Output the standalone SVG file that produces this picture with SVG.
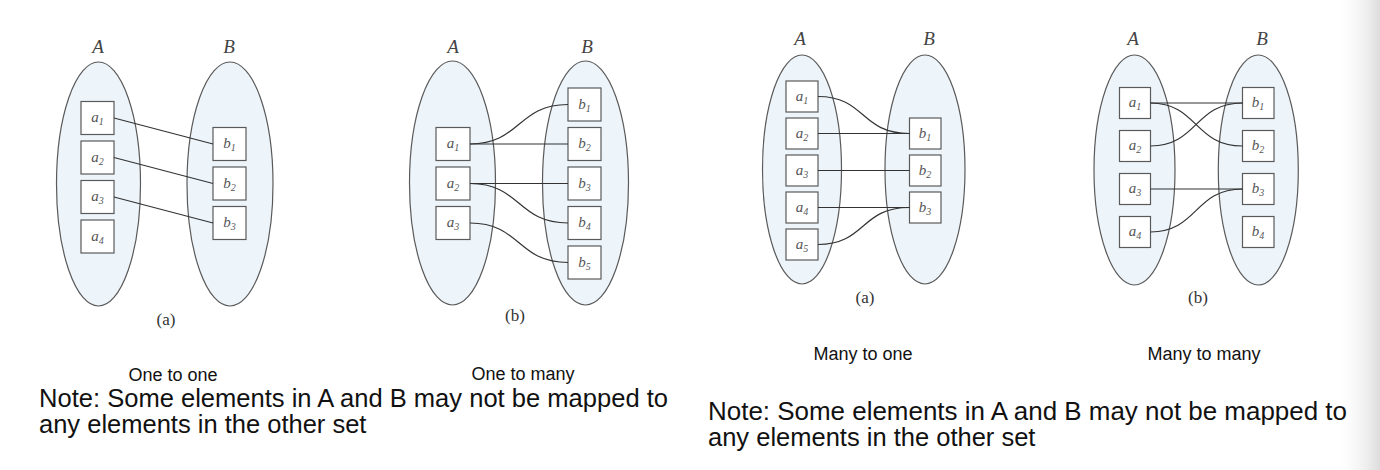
<svg xmlns="http://www.w3.org/2000/svg" width="1380" height="470" viewBox="0 0 1380 470">
<defs>
<linearGradient id="edge" x1="0" y1="0" x2="1" y2="0">
<stop offset="0" stop-color="#ffffff" stop-opacity="0"/>
<stop offset="1" stop-color="#dcdcdc" stop-opacity="1"/>
</linearGradient>
</defs>
<style>
.set{fill:#edf4fa;stroke:#5a5a5a;stroke-width:1.2}
.box{fill:#ffffff;stroke:#5a5a5a;stroke-width:1.2}
.conn path{fill:none;stroke:#333333;stroke-width:1.2}
.setlbl{font-family:"Liberation Serif",serif;font-style:italic;font-size:19px;fill:#444;text-anchor:middle}
.lbl{font-family:"Liberation Serif",serif;font-style:italic;font-size:15px;fill:#555;text-anchor:middle}
.sub{font-size:10px}
.cap{font-family:"Liberation Serif",serif;font-size:17px;fill:#333;text-anchor:middle}
.kind{font-family:"Liberation Sans",Arial,sans-serif;font-size:18px;fill:#111;text-anchor:middle}
.note{font-family:"Liberation Sans",Arial,sans-serif;font-size:25.5px;fill:#111}
</style>
<rect x="0" y="0" width="1380" height="470" fill="#ffffff"/>
<rect x="1335" y="0" width="45" height="470" fill="url(#edge)"/>

<!-- Panel 1: one to one -->
<g id="p1-setA"><ellipse class="set" cx="98.5" cy="184" rx="42" ry="122"/><text class="setlbl" x="98" y="53">A</text></g>
<g id="p1-setB"><ellipse class="set" cx="230" cy="184" rx="43" ry="122"/><text class="setlbl" x="229" y="53">B</text></g>
<g id="p1-a1"><rect class="box" x="81" y="101.5" width="33" height="33"/><text class="lbl" x="97.5" y="122">a<tspan class="sub" dy="3">1</tspan></text></g>
<g id="p1-a2"><rect class="box" x="81" y="141" width="33" height="33"/><text class="lbl" x="97.5" y="161.5">a<tspan class="sub" dy="3">2</tspan></text></g>
<g id="p1-a3"><rect class="box" x="81" y="180.5" width="33" height="33"/><text class="lbl" x="97.5" y="201">a<tspan class="sub" dy="3">3</tspan></text></g>
<g id="p1-a4"><rect class="box" x="81" y="220" width="33" height="33"/><text class="lbl" x="97.5" y="240.5">a<tspan class="sub" dy="3">4</tspan></text></g>
<g id="p1-b1"><rect class="box" x="213" y="127.5" width="33" height="33"/><text class="lbl" x="229.5" y="148">b<tspan class="sub" dy="3">1</tspan></text></g>
<g id="p1-b2"><rect class="box" x="213" y="167" width="33" height="33"/><text class="lbl" x="229.5" y="187.5">b<tspan class="sub" dy="3">2</tspan></text></g>
<g id="p1-b3"><rect class="box" x="213" y="206.5" width="33" height="33"/><text class="lbl" x="229.5" y="227">b<tspan class="sub" dy="3">3</tspan></text></g>
<text class="cap" x="166" y="325">(a)</text>

<!-- Panel 2: one to many -->
<g id="p2-setA"><ellipse class="set" cx="452.5" cy="183" rx="43" ry="122"/><text class="setlbl" x="453" y="53">A</text></g>
<g id="p2-setB"><ellipse class="set" cx="585.5" cy="183" rx="43" ry="122"/><text class="setlbl" x="587" y="53">B</text></g>
<g id="p2-a1"><rect class="box" x="436" y="127.5" width="34" height="33"/><text class="lbl" x="453" y="148">a<tspan class="sub" dy="3">1</tspan></text></g>
<g id="p2-a2"><rect class="box" x="436" y="167" width="34" height="33"/><text class="lbl" x="453" y="187.5">a<tspan class="sub" dy="3">2</tspan></text></g>
<g id="p2-a3"><rect class="box" x="436" y="206.5" width="34" height="33"/><text class="lbl" x="453" y="227">a<tspan class="sub" dy="3">3</tspan></text></g>
<g id="p2-b1"><rect class="box" x="568" y="88" width="33" height="33"/><text class="lbl" x="584.5" y="108.5">b<tspan class="sub" dy="3">1</tspan></text></g>
<g id="p2-b2"><rect class="box" x="568" y="127.5" width="33" height="33"/><text class="lbl" x="584.5" y="148">b<tspan class="sub" dy="3">2</tspan></text></g>
<g id="p2-b3"><rect class="box" x="568" y="167" width="33" height="33"/><text class="lbl" x="584.5" y="187.5">b<tspan class="sub" dy="3">3</tspan></text></g>
<g id="p2-b4"><rect class="box" x="568" y="206.5" width="33" height="33"/><text class="lbl" x="584.5" y="227">b<tspan class="sub" dy="3">4</tspan></text></g>
<g id="p2-b5"><rect class="box" x="568" y="246" width="33" height="33"/><text class="lbl" x="584.5" y="266.5">b<tspan class="sub" dy="3">5</tspan></text></g>
<text class="cap" x="515" y="321">(b)</text>

<!-- Panel 3: many to one -->
<g id="p3-setA"><ellipse class="set" cx="802" cy="169.5" rx="39.5" ry="114.5"/><text class="setlbl" x="800" y="45">A</text></g>
<g id="p3-setB"><ellipse class="set" cx="925" cy="169.5" rx="40" ry="114.5"/><text class="setlbl" x="929" y="45">B</text></g>
<g id="p3-a1"><rect class="box" x="786" y="81" width="32" height="31"/><text class="lbl" x="802" y="100.5">a<tspan class="sub" dy="3">1</tspan></text></g>
<g id="p3-a2"><rect class="box" x="786" y="118" width="32" height="31"/><text class="lbl" x="802" y="137.5">a<tspan class="sub" dy="3">2</tspan></text></g>
<g id="p3-a3"><rect class="box" x="786" y="155" width="32" height="31"/><text class="lbl" x="802" y="174.5">a<tspan class="sub" dy="3">3</tspan></text></g>
<g id="p3-a4"><rect class="box" x="786" y="192" width="32" height="31"/><text class="lbl" x="802" y="211.5">a<tspan class="sub" dy="3">4</tspan></text></g>
<g id="p3-a5"><rect class="box" x="786" y="229" width="32" height="31"/><text class="lbl" x="802" y="248.5">a<tspan class="sub" dy="3">5</tspan></text></g>
<g id="p3-b1"><rect class="box" x="909.5" y="118" width="31.5" height="31"/><text class="lbl" x="925" y="137.5">b<tspan class="sub" dy="3">1</tspan></text></g>
<g id="p3-b2"><rect class="box" x="909.5" y="155" width="31.5" height="31"/><text class="lbl" x="925" y="174.5">b<tspan class="sub" dy="3">2</tspan></text></g>
<g id="p3-b3"><rect class="box" x="909.5" y="192" width="31.5" height="31"/><text class="lbl" x="925" y="211.5">b<tspan class="sub" dy="3">3</tspan></text></g>
<text class="cap" x="865" y="303">(a)</text>

<!-- Panel 4: many to many -->
<g id="p4-setA"><ellipse class="set" cx="1134.5" cy="170" rx="40.5" ry="115"/><text class="setlbl" x="1133" y="45">A</text></g>
<g id="p4-setB"><ellipse class="set" cx="1258.3" cy="170" rx="40" ry="115"/><text class="setlbl" x="1262" y="45">B</text></g>
<g id="p4-a1"><rect class="box" x="1119.5" y="87.5" width="31" height="31"/><text class="lbl" x="1135" y="107">a<tspan class="sub" dy="3">1</tspan></text></g>
<g id="p4-a2"><rect class="box" x="1119.5" y="130.5" width="31" height="31"/><text class="lbl" x="1135" y="150">a<tspan class="sub" dy="3">2</tspan></text></g>
<g id="p4-a3"><rect class="box" x="1119.5" y="173.5" width="31" height="31"/><text class="lbl" x="1135" y="193">a<tspan class="sub" dy="3">3</tspan></text></g>
<g id="p4-a4"><rect class="box" x="1119.5" y="216.5" width="31" height="31"/><text class="lbl" x="1135" y="236">a<tspan class="sub" dy="3">4</tspan></text></g>
<g id="p4-b1"><rect class="box" x="1242.5" y="87.5" width="31.5" height="31"/><text class="lbl" x="1258" y="107">b<tspan class="sub" dy="3">1</tspan></text></g>
<g id="p4-b2"><rect class="box" x="1242.5" y="130.5" width="31.5" height="31"/><text class="lbl" x="1258" y="150">b<tspan class="sub" dy="3">2</tspan></text></g>
<g id="p4-b3"><rect class="box" x="1242.5" y="173.5" width="31.5" height="31"/><text class="lbl" x="1258" y="193">b<tspan class="sub" dy="3">3</tspan></text></g>
<g id="p4-b4"><rect class="box" x="1242.5" y="216.5" width="31.5" height="31"/><text class="lbl" x="1258" y="236">b<tspan class="sub" dy="3">4</tspan></text></g>
<text class="cap" x="1198" y="303">(b)</text>

<g id="connectors" class="conn">
<path d="M114,118 L213,144"/>
<path d="M114,157.5 L213,183.5"/>
<path d="M114,197 L213,223"/>
<path d="M470,144 C521,144 517,104.5 568,104.5"/>
<path d="M470,144 L568,144"/>
<path d="M470,183.5 L568,183.5"/>
<path d="M470,183.5 C521,183.5 517,223 568,223"/>
<path d="M470,223 C521,223 517,262.5 568,262.5"/>
<path d="M818,96.5 C866,96.5 860,133.5 909.5,133.5"/>
<path d="M818,133.5 L909.5,133.5"/>
<path d="M818,170.5 L909.5,170.5"/>
<path d="M818,207.5 L909.5,207.5"/>
<path d="M818,244.5 C866,244.5 860,207.5 909.5,207.5"/>
<path d="M1150.5,103 L1242.5,103"/>
<path d="M1150.5,103 C1198,103 1194,146 1242.5,146"/>
<path d="M1150.5,146 C1198,146 1194,103 1242.5,103"/>
<path d="M1150.5,189 L1242.5,189"/>
<path d="M1150.5,232 C1198,232 1194,189 1242.5,189"/>
</g>

<text class="kind" x="173" y="381">One to one</text>
<text class="kind" x="523" y="380">One to many</text>
<text class="kind" x="863" y="360">Many to one</text>
<text class="kind" x="1204" y="360">Many to many</text>
<text class="note" x="39" y="407" textLength="629" lengthAdjust="spacingAndGlyphs">Note: Some elements in A and B may not be mapped to</text>
<text class="note" x="39" y="433">any elements in the other set</text>
<text class="note" x="708" y="420" textLength="639" lengthAdjust="spacingAndGlyphs">Note: Some elements in A and B may not be mapped to</text>
<text class="note" x="708" y="446">any elements in the other set</text>
</svg>
